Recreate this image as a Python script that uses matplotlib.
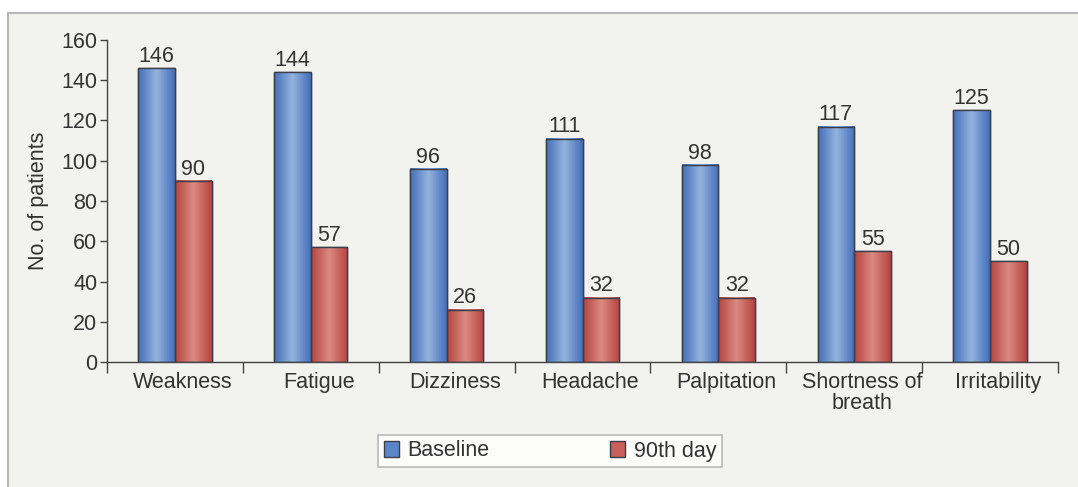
import numpy as np
import matplotlib
matplotlib.use("Agg")
import matplotlib.pyplot as plt
import matplotlib.transforms as mtransforms
from matplotlib.colors import LinearSegmentedColormap
from matplotlib.patches import Rectangle

categories = ["Weakness", "Fatigue", "Dizziness", "Headache", "Palpitation",
              "Shortness of\nbreath", "Irritability"]
baseline = [146, 144, 96, 111, 98, 117, 125]
day90 = [90, 57, 26, 32, 32, 55, 50]
series_names = ["Baseline", "90th day"]

bg = "#f2f2ef"
text_col = "#333333"
fs = 15.5

plt.rcParams["font.family"] = ["Liberation Sans", "DejaVu Sans"]

fig = plt.figure(figsize=(10.78, 4.87), dpi=100)
fig.patch.set_facecolor("white")
# grey panel with border at top/left
fig.patches.append(Rectangle((8 / 1078, -0.01), 1, 1.01 - 13 / 487, transform=fig.transFigure,
                             facecolor=bg, edgecolor="#b8b8b8", linewidth=1.5, zorder=-5))

ax = fig.add_axes([107 / 1078, 1 - 362 / 487, 951 / 1078, 322 / 487])
ax.set_facecolor("none")

x = np.arange(len(categories))
w = 0.27
blue_cmap = LinearSegmentedColormap.from_list("b", ["#4470bb", "#94b3de", "#4470bb"])
red_cmap = LinearSegmentedColormap.from_list("r", ["#b8433f", "#d98a82", "#b8433f"])
grad = np.linspace(0, 1, 64).reshape(1, -1)

b1 = ax.bar(x - w / 2, baseline, w, color="#5b86c8", edgecolor="#3a3f4a", linewidth=1)
b2 = ax.bar(x + w / 2, day90, w, color="#c9605a", edgecolor="#3a3f4a", linewidth=1)

for bars, cmap in ((b1, blue_cmap), (b2, red_cmap)):
    for r in bars:
        x0, y0 = r.get_x(), r.get_y()
        ax.imshow(grad, cmap=cmap, aspect="auto", zorder=r.get_zorder() + 0.1,
                  extent=(x0, x0 + r.get_width(), y0, y0 + r.get_height()))
        ax.add_patch(Rectangle((x0, y0), r.get_width(), r.get_height(), fill=False,
                               edgecolor="#3a3f4a", linewidth=1, zorder=r.get_zorder() + 0.2))
        ax.text(x0 + r.get_width() / 2, r.get_height() + 0.6, str(int(r.get_height())),
                ha="center", va="bottom", fontsize=fs, color=text_col)

ax.set_xlim(-0.5, len(categories) - 0.5)
ax.set_ylim(0, 160)
ax.set_yticks(range(0, 161, 20))
ax.set_xticks(x)
ax.set_xticklabels(categories, fontsize=fs, color=text_col, linespacing=1.0)
ax.set_xticks(np.arange(-0.5, len(categories), 1), minor=True)
ax.tick_params(axis="x", which="major", length=0, pad=7)
ax.tick_params(axis="x", which="minor", length=8, width=1, color="#444444", direction="out")
ax.tick_params(axis="y", length=5, width=1, color="#444444", labelsize=fs,
               labelcolor=text_col, pad=2)
ax.set_ylabel("No. of patients", fontsize=fs, color=text_col, labelpad=9)
# category labels sit a little right of the group centre in the original
shift = mtransforms.ScaledTranslation(8 / 100, 0, fig.dpi_scale_trans)
for lbl in ax.get_xticklabels():
    lbl.set_transform(lbl.get_transform() + shift)
for s in ("top", "right"):
    ax.spines[s].set_visible(False)
for s in ("left", "bottom"):
    ax.spines[s].set_color("#444444")
    ax.spines[s].set_linewidth(1)

leg = fig.legend([b1, b2], series_names, loc="center", ncol=2,
                 bbox_to_anchor=(550 / 1078, 1 - 451 / 487), fontsize=fs,
                 frameon=True, fancybox=False, edgecolor="#aaaaaa",
                 handlelength=0.7, handleheight=0.7, handletextpad=0.4,
                 columnspacing=5.6, borderpad=0.25)
leg.get_frame().set_facecolor("white")
leg.get_frame().set_linewidth(1.2)
for t in leg.get_texts():
    t.set_color(text_col)

fig.savefig("out.png", dpi=100, facecolor=fig.get_facecolor())
